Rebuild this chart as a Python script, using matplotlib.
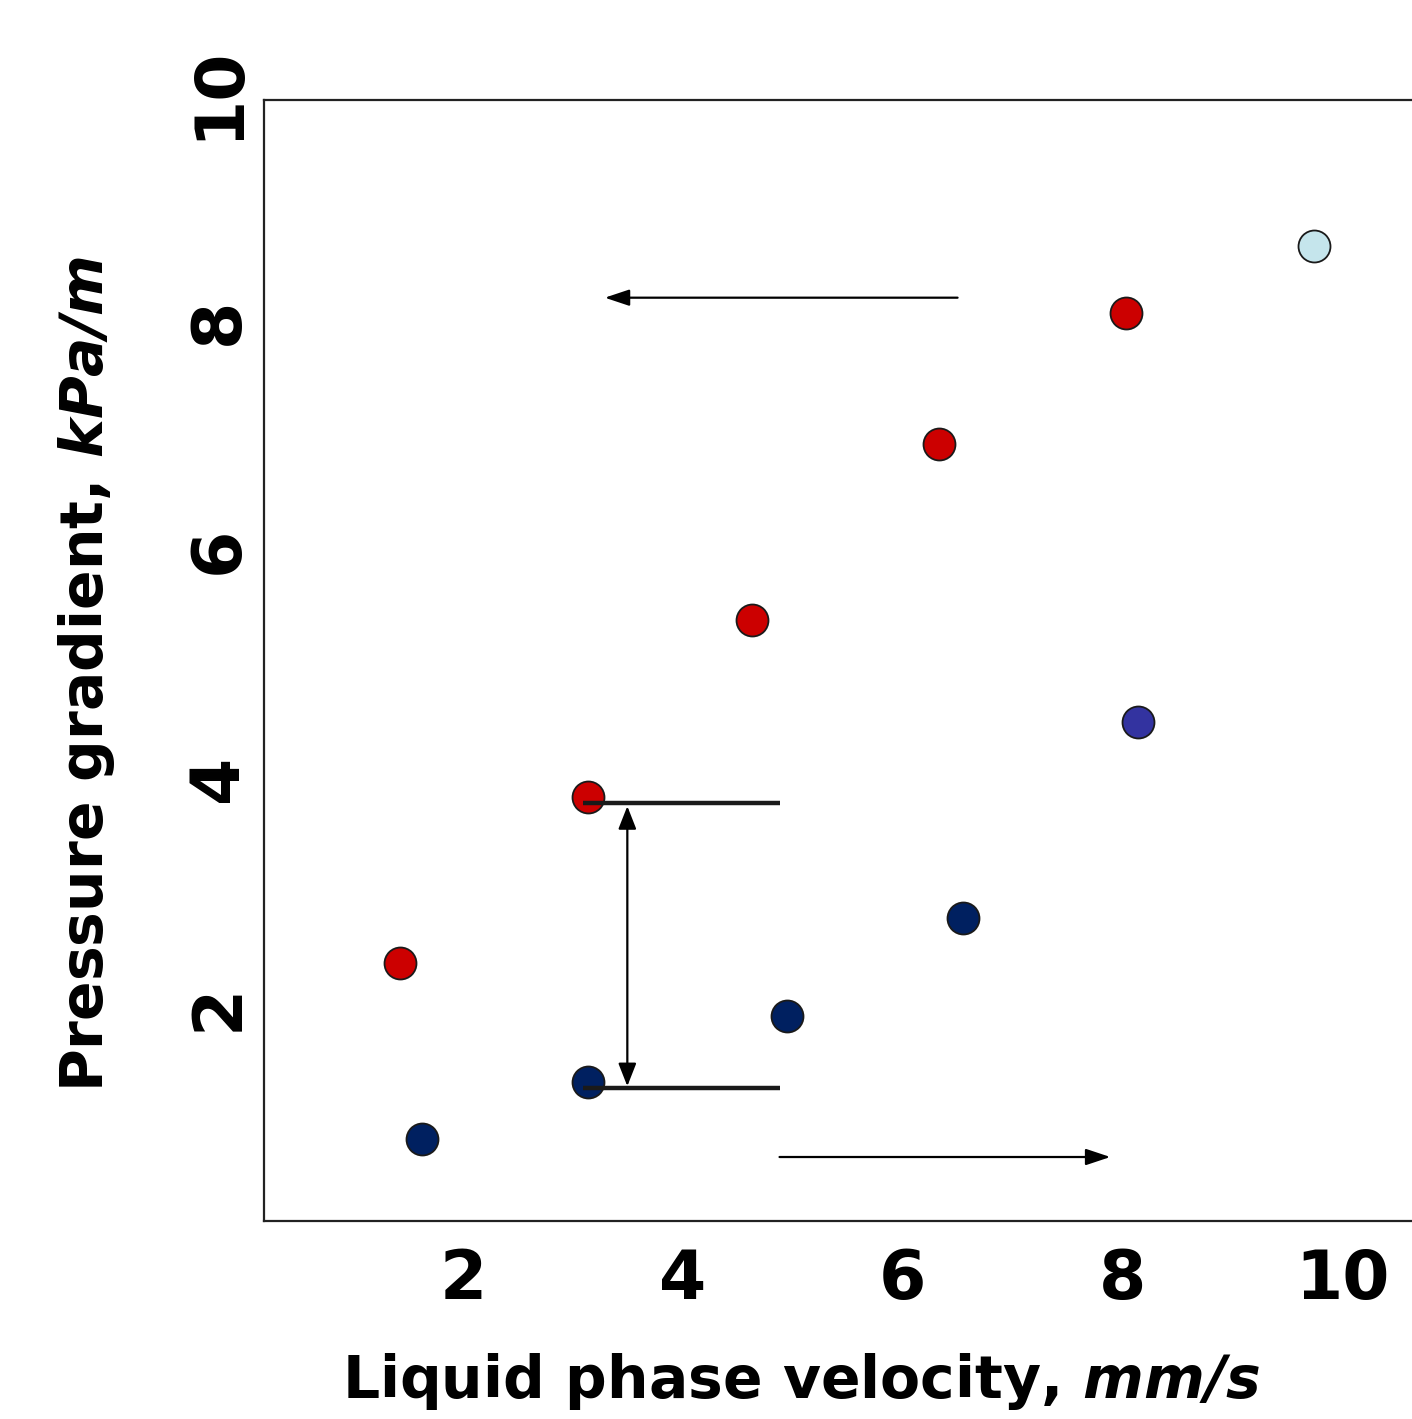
import matplotlib
matplotlib.use("Agg")
import matplotlib.pyplot as plt
import matplotlib.transforms as mtransforms

# ---- data ----
red_x = [1.43, 3.14, 4.63, 6.33, 8.03]
red_y = [2.45, 3.90, 5.45, 6.99, 8.14]

navy_x = [1.63, 3.14, 4.95, 6.55]
navy_y = [0.91, 1.41, 1.98, 2.84]

mid_x = [8.14]
mid_y = [4.56]

light_x = [9.74]
light_y = [8.72]

x_ticks = [2, 4, 6, 8, 10]
y_ticks = [2, 4, 6, 8, 10]
x_tick_labels = ["2", "4", "6", "8", "10"]
y_tick_labels = ["2", "4", "6", "8", "10"]

plt.rcParams['font.family'] = ['DejaVu Sans']
plt.rcParams['mathtext.fontset'] = 'dejavusans'

W, H = 1412, 1419
fig = plt.figure(figsize=(W / 100, H / 100), dpi=100)
ax = fig.add_axes([264 / W, (H - 1221) / H, (1412 - 264) / W + 0.02, (1221 - 100) / H])

ax.set_xlim(0.189, 10.635 + 0.02 * W / 109.9)
ax.set_ylim(0.19, 10.0)

ms = 530
ax.scatter(red_x, red_y, s=ms, c='#CC0000', edgecolors='#1a1a1a', linewidths=1.3, zorder=3)
ax.scatter(navy_x, navy_y, s=ms, c='#002060', edgecolors='#1a1a1a', linewidths=1.3, zorder=3)
ax.scatter(mid_x, mid_y, s=ms, c='#3333A0', edgecolors='#1a1a1a', linewidths=1.3, zorder=3)
ax.scatter(light_x, light_y, s=ms, c='#C5E5EC', edgecolors='#1a1a1a', linewidths=1.3, zorder=3)

# ---- annotations ----
arrow_kw = dict(arrowstyle='-|>,head_length=1.5,head_width=0.5', color='black', lw=1.6,
                shrinkA=0, shrinkB=0)
ax.annotate('', xy=(3.29, 8.27), xytext=(6.50, 8.27), arrowprops=arrow_kw, zorder=4)
ax.annotate('', xy=(7.89, 0.75), xytext=(4.88, 0.75), arrowprops=arrow_kw, zorder=4)
ax.plot([3.09, 4.88], [3.85, 3.85], color='#1a1a1a', lw=3.2, solid_capstyle='butt', zorder=4)
ax.plot([3.09, 4.88], [1.35, 1.35], color='#1a1a1a', lw=3.2, solid_capstyle='butt', zorder=4)
dbl_kw = dict(arrowstyle='<|-|>,head_length=1.4,head_width=0.55', color='black', lw=1.6,
              shrinkA=0, shrinkB=0)
ax.annotate('', xy=(3.495, 3.82), xytext=(3.495, 1.37), arrowprops=dbl_kw, zorder=4)

# ---- axes styling ----
ax.set_xticks(x_ticks)
ax.set_xticklabels(x_tick_labels)
ax.set_yticks(y_ticks)
ax.set_yticklabels(y_tick_labels)
ax.tick_params(axis='both', length=0, labelsize=49)
ax.tick_params(axis='x', pad=19)
ax.tick_params(axis='y', pad=9, labelrotation=90)
for lab in ax.get_xticklabels() + ax.get_yticklabels():
    lab.set_fontweight('bold')
shift_up = mtransforms.ScaledTranslation(0, 0.07, fig.dpi_scale_trans)
for lab in ax.get_yticklabels():
    lab.set_verticalalignment('center')
    lab.set_transform(lab.get_transform() + shift_up)

for side in ['left', 'top', 'bottom']:
    ax.spines[side].set_linewidth(1.6)
    ax.spines[side].set_color('#222222')
ax.spines['right'].set_visible(False)

ax.set_xlabel(r'Liquid phase velocity, $\mathbfit{mm/s}$', fontsize=42, fontweight='bold')
ax.set_ylabel(r'Pressure gradient, $\mathbfit{kPa/m}$', fontsize=42, fontweight='bold')
ax.xaxis.set_label_coords(0.457, -0.116)
ax.yaxis.set_label_coords(-0.125, 0.488)

fig.savefig('out.png', dpi=100, facecolor='white')
